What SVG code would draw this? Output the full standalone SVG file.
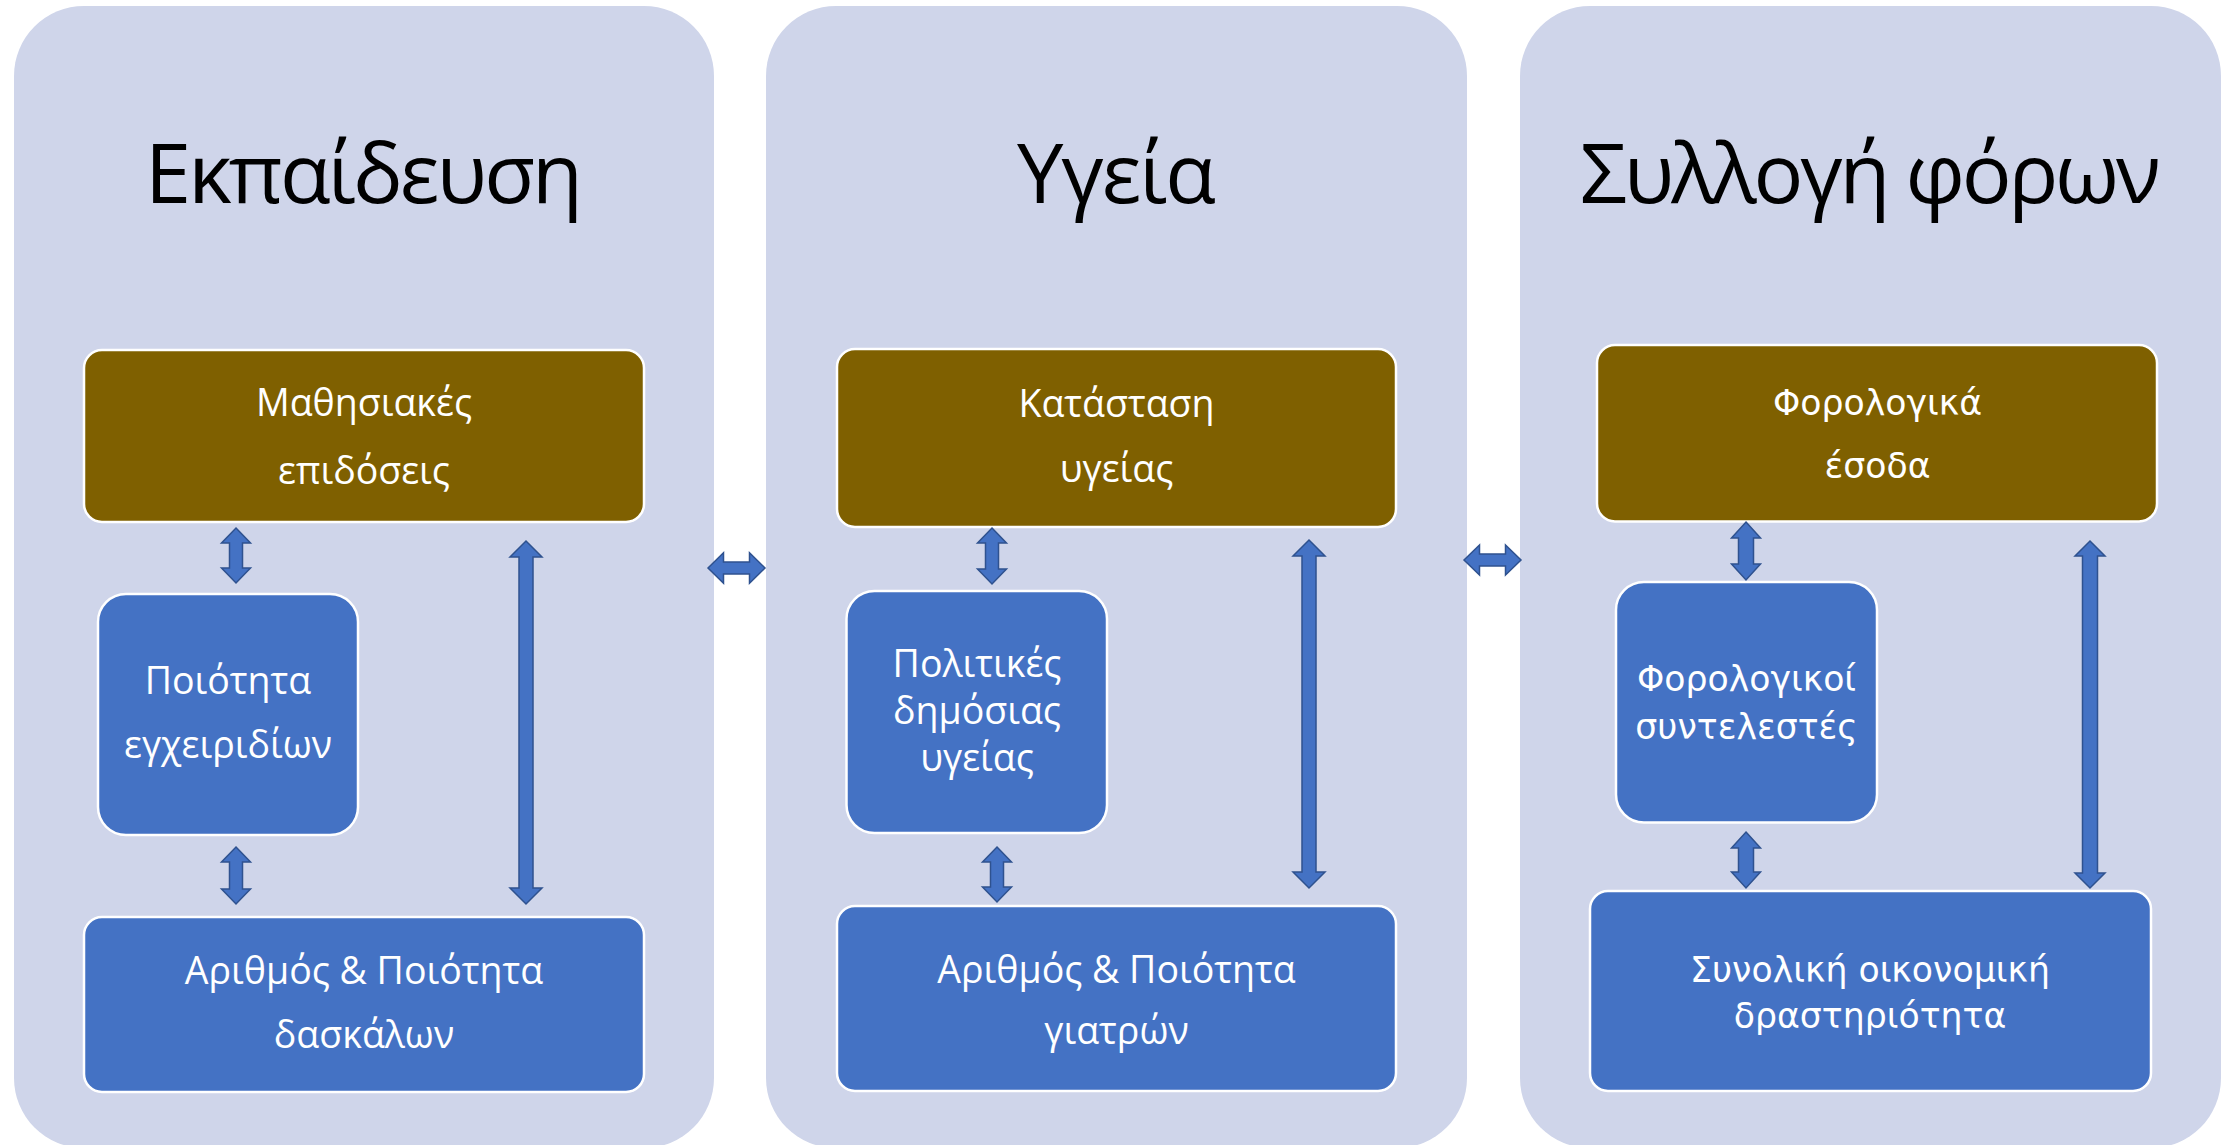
<svg xmlns="http://www.w3.org/2000/svg" width="2233" height="1145" viewBox="0 0 2233 1145">
<style>
.panel{fill:#CFD5EA}
.brown{fill:#7F6000;stroke:#FFFFFF;stroke-width:2.5}
.blue{fill:#4472C4;stroke:#FFFFFF;stroke-width:2.5}
.title{font-family:"Open Sans","Noto Sans","DejaVu Sans",sans-serif;font-size:83px;fill:#000000;text-anchor:middle}
.t{font-family:"Open Sans","Noto Sans","DejaVu Sans",sans-serif;font-size:37.5px;fill:#FFFFFF;text-anchor:middle}
.v{font-family:"DejaVu Sans","Verdana",sans-serif;font-size:34.7px;fill:#FFFFFF;text-anchor:middle}
.arr{fill:#4472C4;stroke:#2F528F;stroke-width:1.5;stroke-linejoin:miter}
</style>
<rect width="2233" height="1145" fill="#FFFFFF"/>
<g id="panel-education">
<rect class="panel" x="14" y="6" width="700" height="1142" rx="70" ry="70"/>
<text class="title" x="364" y="203" textLength="438">Εκπαίδευση</text>
</g>
<g id="panel-health">
<rect class="panel" x="766" y="6" width="701" height="1142" rx="70" ry="70"/>
<text class="title" x="1116.5" y="203" textLength="199">Υγεία</text>
</g>
<g id="panel-tax">
<rect class="panel" x="1520" y="6" width="701" height="1142" rx="70" ry="70"/>
<text class="title" x="1870.5" y="203" textLength="581">Συλλογή φόρων</text>
</g>
<g id="node-learning">
<rect class="brown" x="84" y="350" width="560" height="172" rx="18"/>
<text class="t" x="364" y="416">Μαθησιακές</text>
<text class="t" x="364" y="484">επιδόσεις</text>
</g>
<g id="node-textbooks">
<rect class="blue" x="98" y="594" width="260" height="241" rx="28"/>
<text class="t" x="228" y="694">Ποιότητα</text>
<text class="t" x="228" y="758">εγχειριδίων</text>
</g>
<g id="node-teachers">
<rect class="blue" x="84" y="917" width="560" height="175" rx="18"/>
<text class="t" x="364" y="983.5">Αριθμός &amp; Ποιότητα</text>
<text class="t" x="364" y="1048">δασκάλων</text>
</g>
<g id="node-health-status">
<rect class="brown" x="837" y="349" width="559" height="178" rx="18"/>
<text class="t" x="1116.5" y="417">Κατάσταση</text>
<text class="t" x="1116.5" y="482">υγείας</text>
</g>
<g id="node-health-policy">
<rect class="blue" x="846.5" y="591" width="260.5" height="242" rx="28"/>
<text class="t" x="977" y="677">Πολιτικές</text>
<text class="t" x="977" y="724">δημόσιας</text>
<text class="t" x="977" y="771">υγείας</text>
</g>
<g id="node-doctors">
<rect class="blue" x="837" y="906" width="559" height="185" rx="18"/>
<text class="t" x="1116.5" y="983">Αριθμός &amp; Ποιότητα</text>
<text class="t" x="1116.5" y="1044">γιατρών</text>
</g>
<g id="node-tax-revenue">
<rect class="brown" x="1597" y="345" width="560" height="176.5" rx="18"/>
<text class="v" x="1877.5" y="415">Φορολογικά</text>
<text class="v" x="1877.5" y="478">έσοδα</text>
</g>
<g id="node-tax-rates">
<rect class="blue" x="1616" y="582" width="261" height="240.5" rx="28"/>
<text class="v" x="1746.5" y="690.5">Φορολογικοί</text>
<text class="v" x="1746.5" y="739">συντελεστές</text>
</g>
<g id="node-economic-activity">
<rect class="blue" x="1590" y="891" width="561" height="200" rx="18"/>
<text class="v" x="1870" y="981.5">Συνολική οικονομική</text>
<text class="v" x="1870" y="1027.5">δραστηριότητα</text>
</g>
<g id="connectors">
<polygon class="arr" points="236,528 250.5,543 242.5,543 242.5,568 250.5,568 236,583 221.5,568 229.5,568 229.5,543 221.5,543"/>
<polygon class="arr" points="236,847 250.5,862 242.5,862 242.5,889 250.5,889 236,904 221.5,889 229.5,889 229.5,862 221.5,862"/>
<polygon class="arr" points="526,541 542,557 533,557 533,888 542,888 526,904 510,888 519,888 519,557 510,557"/>
<polygon class="arr" points="992,528 1006.5,543 998.5,543 998.5,569 1006.5,569 992,584 977.5,569 985.5,569 985.5,543 977.5,543"/>
<polygon class="arr" points="997,847 1011.5,862 1003.5,862 1003.5,887 1011.5,887 997,902 982.5,887 990.5,887 990.5,862 982.5,862"/>
<polygon class="arr" points="1309,540 1325,556 1316,556 1316,872 1325,872 1309,888 1293,872 1302,872 1302,556 1293,556"/>
<polygon class="arr" points="1746,522 1760.5,538 1753.5,538 1753.5,564 1760.5,564 1746,580 1731.5,564 1738.5,564 1738.5,538 1731.5,538"/>
<polygon class="arr" points="1746,832 1760.5,848 1753.5,848 1753.5,872 1760.5,872 1746,888 1731.5,872 1738.5,872 1738.5,848 1731.5,848"/>
<polygon class="arr" points="2090,541 2105,556 2097.5,556 2097.5,873 2105,873 2090,888 2075,873 2082.5,873 2082.5,556 2075,556"/>
<polygon class="arr" points="708,568 723.5,552.7 723.5,562 749.5,562 749.5,552.7 765,568 749.5,583.3 749.5,574 723.5,574 723.5,583.3"/>
<polygon class="arr" points="1464,560 1479.5,545 1479.5,554 1505.5,554 1505.5,545 1521,560 1505.5,575 1505.5,566 1479.5,566 1479.5,575"/>
</g>
</svg>
